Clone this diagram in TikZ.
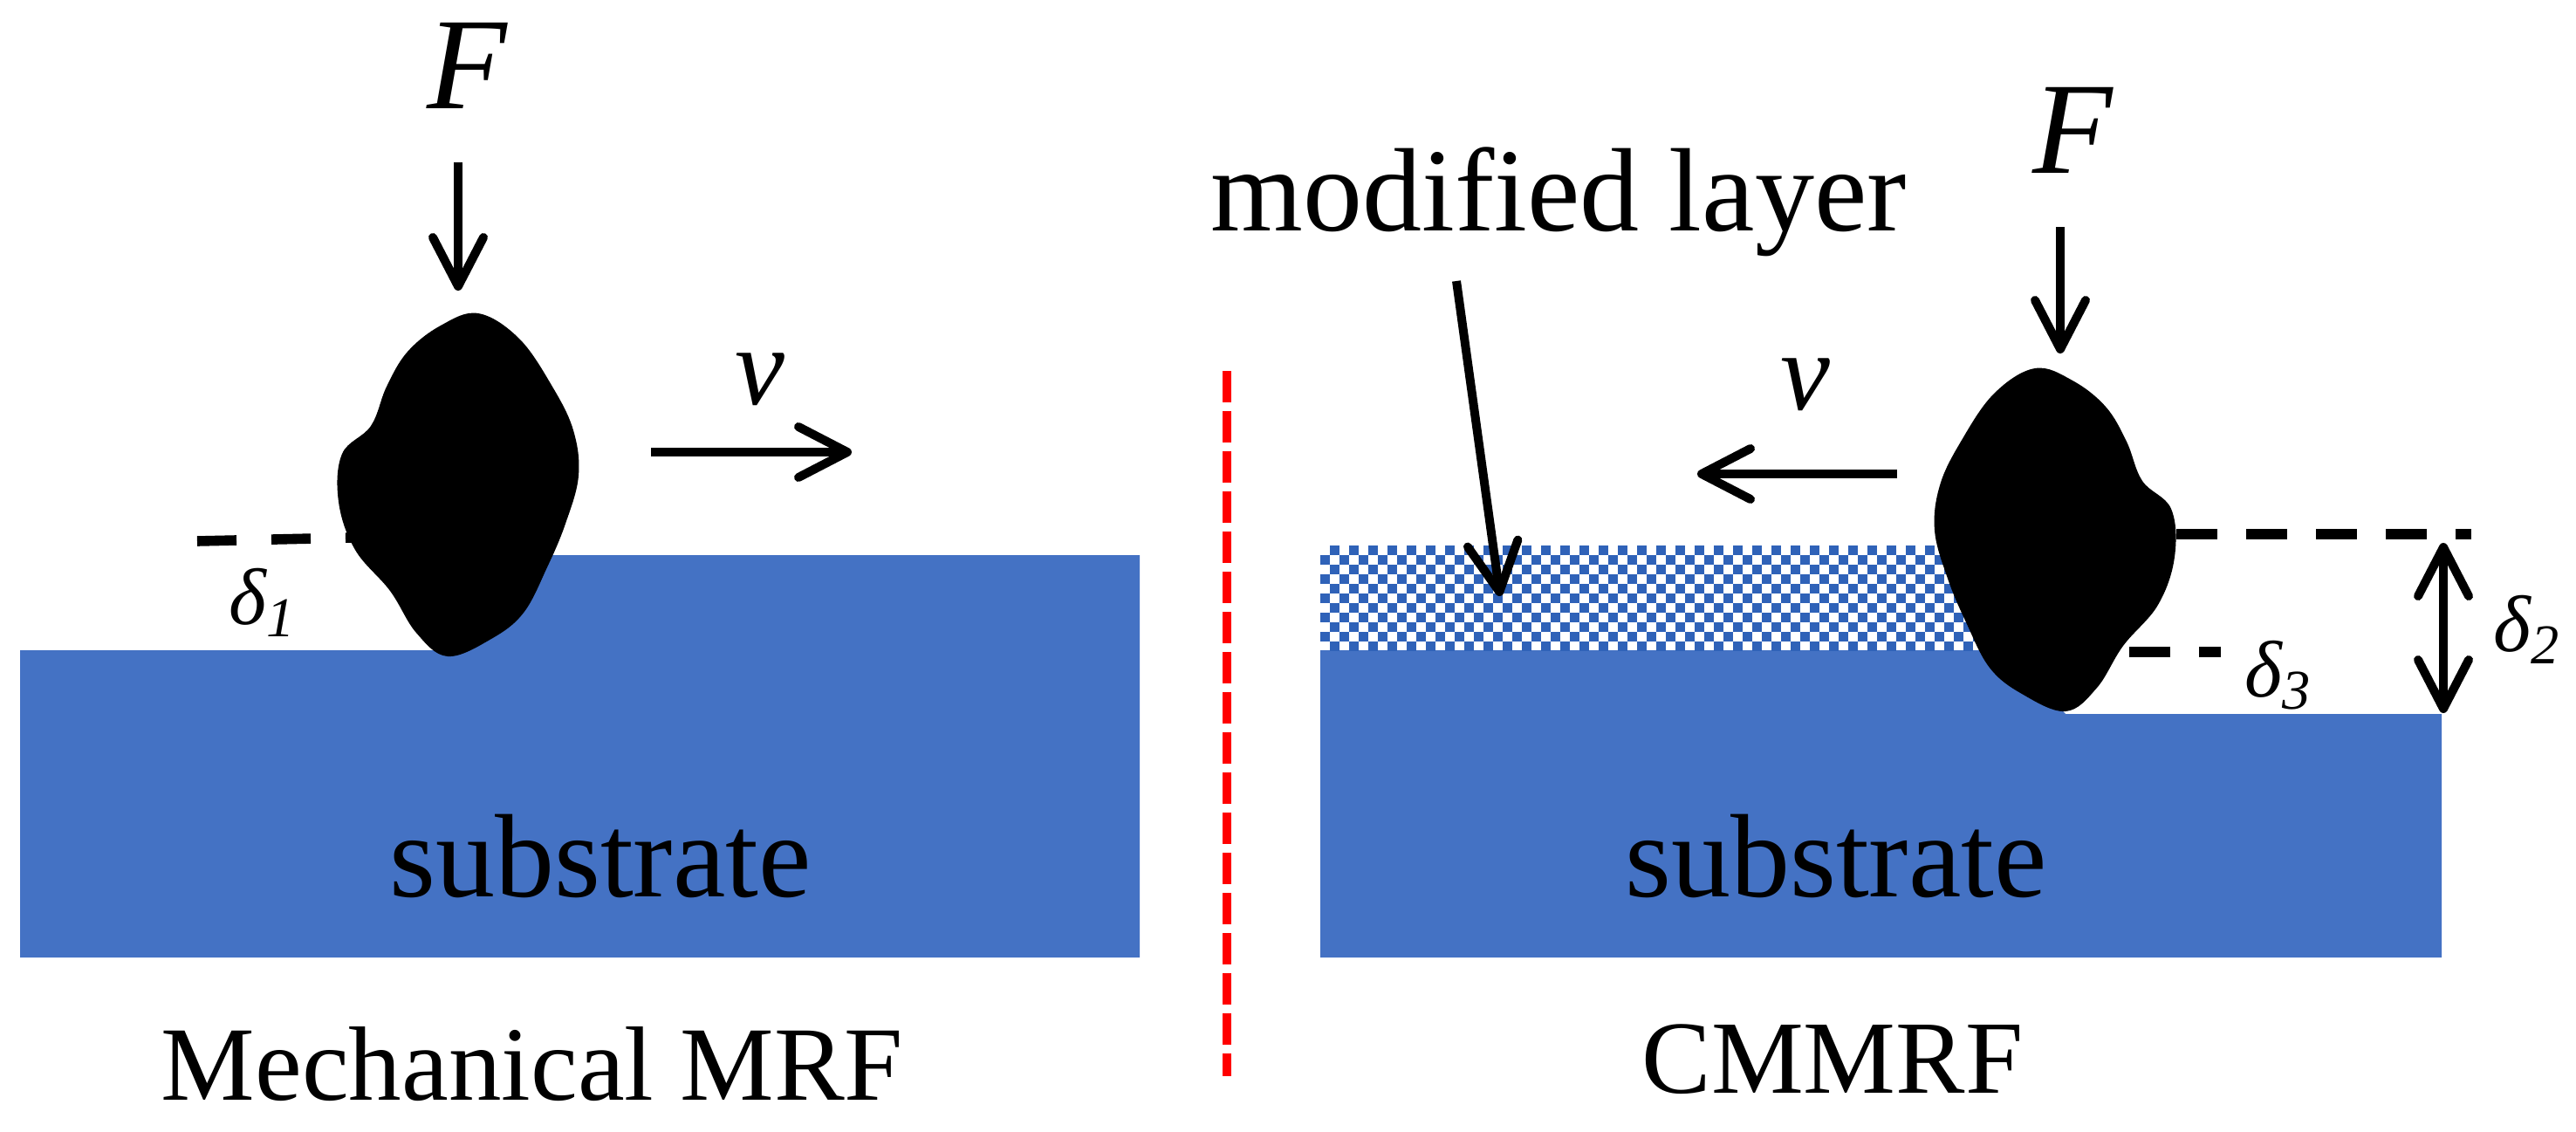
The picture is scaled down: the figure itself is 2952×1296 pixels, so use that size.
\documentclass[tikz,border=0pt]{standalone}
\usepackage{fontspec}
\setmainfont{Liberation Serif}
\usetikzlibrary{arrows.meta}
\definecolor{subblue}{HTML}{4472C4}
\definecolor{cellblue}{HTML}{2F62B8}
\newcommand{\deltasub}[1]{δ\textsubscript{#1}}
\tikzset{
  lbl/.style={inner sep=0pt, anchor=base, font=\fontsize{#1}{#1}\selectfont},
  ilbl/.style={inner sep=0pt, anchor=base, font=\fontsize{#1}{#1}\selectfont\itshape},
  barb/.tip={Straight Barb[length=14pt,width=14.5pt,line width=2.5pt,round]},
  arr/.style={line width=2.5pt, -barb},
  offset/.style={line width=3.1pt, dash pattern=on 11.75pt off 8.25pt},
  particle/.pic={
    \fill[black] plot[smooth cycle, tension=.62] coordinates {
      (548,359) (595,388) (633,443) (657,493) (663,545) (648,600) (627,650) (600,702)
      (563,732) (513,752) (477,725) (447,677) (407,630) (388,575) (392,520) (425,488)
      (443,443) (467,403) (505,373)};
  }
}
\begin{document}
\begin{tikzpicture}[x=.25pt, y=-.25pt]
  \useasboundingbox (0,0) rectangle (2952,1296);
  % left panel
  \fill[subblue] (23,745) -- (500,745) -- (620,636) -- (1306,636) -- (1306,1097) -- (23,1097) -- cycle;
  \pic (grainl) at (0,0) {particle};
  \node[ilbl=37.5] (fl) at (535,124) {F};
  \coordinate (fla) at (525,186);
  \coordinate (flb) at (525,333);
  \draw[arr] (fla) -- (flb);
  \node[ilbl=32] (vl) at (871,463) {v};
  \coordinate (vla) at (746,518);
  \coordinate (vlb) at (976,518);
  \draw[arr] (vla) -- (vlb);
  \coordinate (dla) at (226,620);
  \coordinate (dlb) at (404,616);
  \draw[line width=2.9pt, dash pattern=on 11.25pt off 10pt] (dla) -- (dlb);
  \node[ilbl=23] (d1) at (301,715) {\deltasub{1}};
  \node[lbl=34] (subl) at (688,1027) {substrate};
  \node[lbl=30.25] (capl) at (610,1260) {Mechanical MRF};
  % divider
  \coordinate (rda) at (1406,425);
  \coordinate (rdb) at (1406,1233);
  \draw[red, line width=2.5pt, dash pattern=on 9pt off 2.5pt] (rda) -- (rdb);
  % right panel
  \fill[subblue] (1513,745) -- (2300,745) -- (2367,818) -- (2798,818) -- (2798,1097) -- (1513,1097) -- cycle;
  \fill[white] (1513,625) rectangle (2300,745);
  \foreach \r in {0,...,10} {
    \pgfmathsetmacro{\rowy}{630.5+11*\r}
    \pgfmathsetmacro{\rowx}{iseven(\r) ? 1524 : 1513}
    \draw[cellblue, line width=2.75pt, dash pattern=on 2.75pt off 2.75pt] (\rowx,\rowy) -- (2300,\rowy);
  }
  \pic[xscale=-1] (grainr) at (2880,63) {particle};
  \node[lbl=34, anchor=base west] (modl) at (1387,264) {modified layer};
  \coordinate (maa) at (1669,322);
  \coordinate (mab) at (1719,683);
  \draw[arr] (maa) -- (mab);
  \node[ilbl=37.5] (fr) at (2375,198) {F};
  \coordinate (fra) at (2361,260);
  \coordinate (frb) at (2361,405);
  \draw[arr] (fra) -- (frb);
  \node[ilbl=32] (vr) at (2069,469) {v};
  \coordinate (vra) at (2174,543);
  \coordinate (vrb) at (1945,543);
  \draw[arr] (vra) -- (vrb);
  \coordinate (dua) at (2494,612);
  \coordinate (dub) at (2832,612);
  \draw[offset] (dua) -- (dub);
  \coordinate (dma) at (2440,747);
  \coordinate (dmb) at (2545,747);
  \draw[offset] (dma) -- (dmb);
  \coordinate (daa) at (2800,622);
  \coordinate (dab) at (2800,817);
  \draw[line width=2.5pt, barb-barb] (daa) -- (dab);
  \node[ilbl=23, anchor=base west] (d3) at (2572,798) {\deltasub{3}};
  \node[ilbl=23, anchor=base west] (d2) at (2857,746) {\deltasub{2}};
  \node[lbl=34] (subr) at (2104,1027) {substrate};
  \node[lbl=29.75] (capr) at (2100,1252) {CMMRF};
\end{tikzpicture}
\end{document}
